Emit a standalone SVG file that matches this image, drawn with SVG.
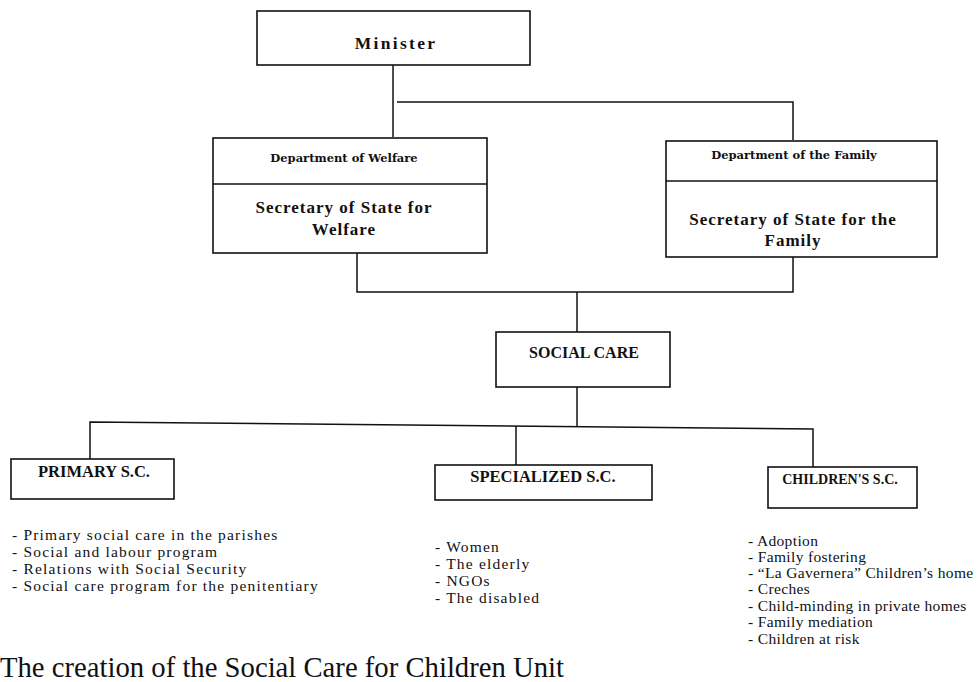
<svg xmlns="http://www.w3.org/2000/svg" width="980" height="682" viewBox="0 0 980 682">
<style>
.box{fill:#fff;stroke:#111;stroke-width:1.6}
.ln{fill:none;stroke:#111;stroke-width:1.5}
.h{font-family:"Liberation Serif","Times New Roman",serif;font-weight:bold;fill:#111;text-anchor:middle}
.dep{font-family:"DejaVu Serif","Liberation Serif",serif;font-weight:bold;font-size:11.5px;fill:#111;text-anchor:middle}
.li{font-family:"Liberation Serif","Times New Roman",serif;font-size:15.5px;letter-spacing:1.2px;fill:#111}
.lc{letter-spacing:0.35px}
</style>
<rect width="980" height="682" fill="#fff"/>
<g id="connectors">
<path class="ln" d="M393 65V137"/>
<path class="ln" d="M397 102H793V140"/>
<path class="ln" d="M357 253V292H793V257"/>
<path class="ln" d="M577 292V332"/>
<path class="ln" d="M577 387V426"/>
<path class="ln" d="M90 459V422L813 429V467"/>
<path class="ln" d="M516 426V465"/>
</g>
<g id="minister">
<rect class="box" x="257" y="11" width="273" height="54"/>
<text class="h" x="396" y="49" font-size="17.5" letter-spacing="2.3">Minister</text>
</g>
<g id="welfare">
<rect class="box" x="213" y="138" width="274" height="115"/>
<path class="ln" d="M213 184H487" stroke-width="2"/>
<text class="dep" x="344" y="162">Department of Welfare</text>
<text class="h" x="344" y="213" font-size="17" letter-spacing="1">Secretary of State for</text>
<text class="h" x="344" y="235" font-size="17" letter-spacing="1">Welfare</text>
</g>
<g id="family">
<rect class="box" x="666" y="141" width="271" height="116"/>
<path class="ln" d="M666 181H937" stroke-width="2"/>
<text class="dep" x="794" y="159">Department of the Family</text>
<text class="h" x="793" y="225" font-size="17" letter-spacing="1">Secretary of State for the</text>
<text class="h" x="793" y="246" font-size="17" letter-spacing="1">Family</text>
</g>
<g id="social-care">
<rect class="box" x="496" y="332" width="174" height="55"/>
<text class="h" x="584" y="358" font-size="16">SOCIAL CARE</text>
</g>
<g id="primary">
<rect class="box" x="11" y="459" width="163" height="40"/>
<text class="h" x="94" y="477" font-size="16.5">PRIMARY S.C.</text>
<text class="li" x="12" y="540">- Primary social care in the parishes</text>
<text class="li" x="12" y="557">- Social and labour program</text>
<text class="li" x="12" y="574">- Relations with Social Security</text>
<text class="li" x="12" y="591">- Social care program for the penitentiary</text>
</g>
<g id="specialized">
<rect class="box" x="435" y="465" width="217" height="35"/>
<text class="h" x="543" y="482" font-size="16.5">SPECIALIZED S.C.</text>
<text class="li" x="435" y="552">- Women</text>
<text class="li" x="435" y="569">- The elderly</text>
<text class="li" x="435" y="586">- NGOs</text>
<text class="li" x="435" y="603">- The disabled</text>
</g>
<g id="childrens">
<rect class="box" x="768" y="467" width="149" height="41"/>
<text class="h" x="840" y="484" font-size="14">CHILDREN'S S.C.</text>
<text class="li lc" x="748" y="546">- Adoption</text>
<text class="li lc" x="748" y="562">- Family fostering</text>
<text class="li lc" x="748" y="578">- “La Gavernera” Children’s home</text>
<text class="li lc" x="748" y="594">- Creches</text>
<text class="li lc" x="748" y="611">- Child-minding in private homes</text>
<text class="li lc" x="748" y="627">- Family mediation</text>
<text class="li lc" x="748" y="644">- Children at risk</text>
</g>
<text x="0" y="677" font-family="Liberation Serif,'Times New Roman',serif" font-size="28.7" fill="#111">The creation of the Social Care for Children Unit</text>
</svg>
